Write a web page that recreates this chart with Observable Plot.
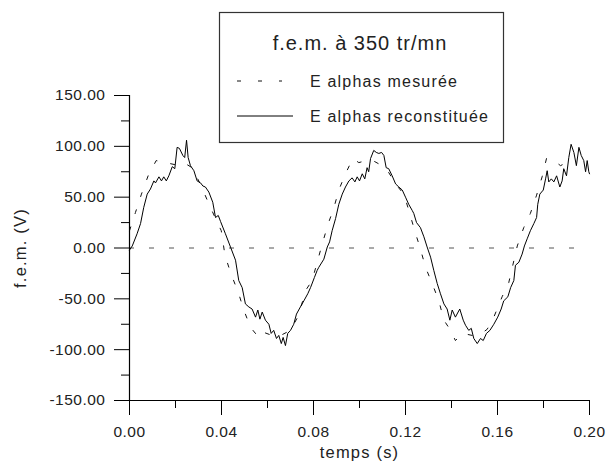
<!DOCTYPE html>
<html><head><meta charset="utf-8">
<script src="https://cdn.jsdelivr.net/npm/d3@7"></script>
<script src="https://cdn.jsdelivr.net/npm/@observablehq/plot@0.6"></script>
<style>
body{margin:0;background:#fff;}
#wrap{position:relative;width:606px;height:466px;font-family:"Liberation Sans",Arial,sans-serif;}
#legend{position:absolute;left:218px;top:11px;}
</style></head><body><div id="wrap"></div>
<script>
// Reconstituted EMF (solid line)
const tempsRecon = [0,0.0012,0.0033,0.0048,0.0062,0.0077,0.0091,0.0106,0.0113,0.0128,0.0139,0.0149,0.016,0.0171,0.0186,0.0197,0.0207,0.0217,0.0232,0.024,0.0248,0.0255,0.0265,0.028,0.0294,0.0309,0.0319,0.033,0.0345,0.0362,0.0374,0.0386,0.0396,0.0417,0.0439,0.0461,0.0475,0.049,0.0504,0.0519,0.0533,0.0548,0.0558,0.0567,0.0577,0.0591,0.0606,0.0616,0.0627,0.0639,0.0649,0.066,0.0668,0.0678,0.0688,0.07,0.0714,0.0726,0.0743,0.0758,0.0775,0.0787,0.0804,0.0816,0.0823,0.0845,0.086,0.087,0.0881,0.0896,0.091,0.0925,0.0939,0.0954,0.0968,0.098,0.099,0.1,0.1012,0.1023,0.1033,0.104,0.1048,0.1062,0.1073,0.1084,0.1096,0.1106,0.1116,0.1127,0.1142,0.1157,0.1171,0.1186,0.12,0.1214,0.1229,0.1236,0.1248,0.1265,0.128,0.1294,0.1309,0.1323,0.1338,0.1352,0.1367,0.1381,0.1393,0.1403,0.1417,0.1436,0.1451,0.1461,0.1475,0.1486,0.1497,0.1512,0.1526,0.1538,0.1552,0.1567,0.1584,0.1601,0.1616,0.1627,0.1645,0.1657,0.1671,0.1678,0.1693,0.1707,0.1717,0.1729,0.1743,0.1758,0.177,0.1775,0.1784,0.1799,0.1809,0.1816,0.1823,0.1834,0.1845,0.1857,0.1871,0.1881,0.1888,0.19,0.191,0.192,0.1932,0.1943,0.1954,0.1964,0.1975,0.1983,0.199,0.1997,0.2];
const eRecon = [-2,2,14,24,40,53,58,66,64,70,66,70,66,71,80,78,99,98,91,89,106,89,81,76,66,64,61,60,55,45,30,32,26,14,1,-12,-32,-39,-55,-58,-60,-68,-61,-70,-63,-71,-75,-84,-81,-89,-86,-94,-88,-96,-84,-81,-75,-65,-58,-52,-45,-39,-29,-22,-19,-11,1,6,17,29,43,53,60,66,69,65,70,66,73,68,79,75,88,96,94,93,94,91,79,78,71,63,60,57,50,43,37,34,25,20,11,1,-9,-22,-35,-45,-55,-60,-71,-61,-68,-60,-71,-76,-81,-79,-89,-94,-89,-91,-84,-81,-75,-68,-60,-52,-48,-39,-32,-17,-14,-6,2,9,17,24,30,43,53,57,68,76,65,68,65,71,60,66,78,71,89,102,94,81,99,91,86,75,86,75,73];

// Measured EMF (dashed line)
const tempsMes = [0,0.0026,0.0052,0.0081,0.0116,0.0157,0.0197,0.0236,0.0272,0.031,0.0342,0.0374,0.0399,0.0415,0.0439,0.0475,0.0497,0.0526,0.0562,0.0584,0.062,0.0657,0.07,0.0736,0.0765,0.0794,0.0816,0.0838,0.0864,0.0888,0.091,0.0939,0.0971,0.0997,0.103,0.1058,0.109,0.1125,0.116,0.1193,0.1217,0.124,0.1265,0.1287,0.1316,0.1345,0.1367,0.1396,0.1417,0.145,0.149,0.153,0.1555,0.1584,0.162,0.1649,0.1686,0.1714,0.1743,0.177,0.1794,0.1813,0.1845,0.1874,0.19];
const eMes = [17,35,53,71,86,84,82,84,79,62,45,29,17,-7,-24,-45,-61,-78,-88,-83,-86,-86,-81,-66,-42,-32,-14,4,24,39,57,73,88,84,86,86,82,75,62,53,35,17,-1,-19,-35,-52,-71,-81,-91,-84,-86,-84,-80,-68,-48,-34,2,20,34,52,70,88,86,81,84];

const xMajor = [0, 0.04, 0.08, 0.12, 0.16, 0.20];
const xMinor = [0.02, 0.06, 0.10, 0.14, 0.18];
const yMajor = [-150, -100, -50, 0, 50, 100, 150];
const yMinor = [-125, -75, -25, 25, 75, 125];
const zeroLine = [0];

const titre = "f.e.m. à 350 tr/mn";
const serieNoms = ["E alphas mesurée", "E alphas reconstituée"];
const xLabel = "temps (s)";
const yLabel = "f.e.m. (V)";

const recData = tempsRecon.map((t, i) => ({t, v: eRecon[i]}));
const mesData = tempsMes.map((t, i) => ({t, v: eMes[i]}));

const font = '"Liberation Sans", Arial, sans-serif';
const fmt = d => (+d).toFixed(2);

const chart = Plot.plot({
  width: 606, height: 466,
  marginLeft: 129, marginRight: 17, marginTop: 95, marginBottom: 66,
  style: {fontFamily: font, fontSize: "15.5px", color: "#222", background: "#fff", overflow: "visible"},
  x: {domain: [0, 0.2]},
  y: {domain: [-150, 150]},
  marks: [
    Plot.ruleY(zeroLine, {stroke: "#555", strokeWidth: 1, strokeDasharray: "5,15"}),
    Plot.line(mesData, {x: "t", y: "v", stroke: "#111", strokeWidth: 1, strokeDasharray: "4,14"}),
    Plot.line(recData, {x: "t", y: "v", stroke: "#000", strokeWidth: 1}),
    Plot.axisX({ticks: xMajor, tickSize: 15, tickPadding: 10, tickFormat: fmt, label: null, stroke: "#000"}),
    Plot.axisX({ticks: xMinor, tickSize: 8, tickFormat: () => "", label: null, stroke: "#000"}),
    Plot.axisY({ticks: yMajor, tickSize: 15, tickPadding: 9, tickFormat: fmt, label: null, stroke: "#000"}),
    Plot.axisY({ticks: yMinor, tickSize: 8, tickFormat: () => "", label: null, stroke: "#000"}),
    Plot.ruleX([0], {stroke: "#000", strokeWidth: 1.2}),
    Plot.ruleY([-150], {stroke: "#000", strokeWidth: 1.2}),
    Plot.text([xLabel], {frameAnchor: "bottom", dy: 52, textAnchor: "middle", lineAnchor: "middle", fontSize: 16.5, fill: "#222"}),
    Plot.text([yLabel], {frameAnchor: "left", dx: -109, rotate: -90, textAnchor: "middle", lineAnchor: "middle", fontSize: 16.5, fill: "#222"})
  ]
});
const wrap = document.getElementById("wrap");
wrap.appendChild(chart);
d3.select(chart).selectAll("text").each(function() {
  const s = d3.select(this);
  const t = s.text();
  if (t === xLabel || t === yLabel) s.attr("letter-spacing", "1.2px");
  else s.attr("letter-spacing", "0.5px");
});

// Legend box
const lg = d3.select(wrap).append("svg").attr("id", "legend")
  .attr("width", 290).attr("height", 136)
  .style("font-family", font);
lg.append("rect").attr("x", 1.5).attr("y", 1.5).attr("width", 284).attr("height", 130)
  .attr("fill", "#fff").attr("stroke", "#333").attr("stroke-width", 1.2);
lg.append("text").attr("x", 142).attr("y", 32).attr("text-anchor", "middle")
  .attr("dominant-baseline", "central").attr("font-size", 20).attr("letter-spacing", "1px")
  .attr("fill", "#222").text(titre);
lg.append("line").attr("x1", 19).attr("x2", 64).attr("y1", 70).attr("y2", 70)
  .attr("stroke", "#111").attr("stroke-dasharray", "4,17");
lg.append("line").attr("x1", 19).attr("x2", 75).attr("y1", 105).attr("y2", 105)
  .attr("stroke", "#000");
lg.append("text").attr("x", 92).attr("y", 70).attr("dominant-baseline", "central")
  .attr("font-size", 16).attr("letter-spacing", "1.2px").attr("fill", "#222").text(serieNoms[0]);
lg.append("text").attr("x", 92).attr("y", 105).attr("dominant-baseline", "central")
  .attr("font-size", 16).attr("letter-spacing", "1.2px").attr("fill", "#222").text(serieNoms[1]);
</script></body></html>
